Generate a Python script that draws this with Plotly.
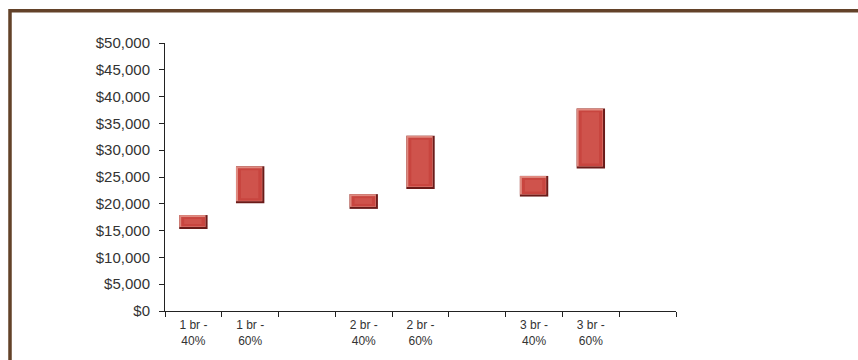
import plotly.graph_objects as go

# Rent ranges by unit size and income level
categories = ["1 br -<br>40%", "1 br -<br>60%", " ",
              "2 br -<br>40%", "2 br -<br>60%", "  ",
              "3 br -<br>40%", "3 br -<br>60%", "   "]
low_values = [15300, 20100, None, 19050, 22750, None, 21350, 26600, None]
high_values = [17900, 27000, None, 21800, 32700, None, 25200, 37800, None]
y_ticks = list(range(0, 50001, 5000))

W, H = 858, 360
M_L, M_R, M_T, M_B = 165, 182, 43, 47
pw = W - M_L - M_R
ph = H - M_T - M_B

# pixel sizes expressed in axis units, used for the bevelled bar look
px_val = 50000 / ph
px_cat = len(categories) / pw
BAR_W = 0.5

spans = [None if lo is None else hi - lo for lo, hi in zip(low_values, high_values)]


def layer(dl, dr, db, dt, color):
    """Bar layer inset by the given pixel amounts on left/right/bottom/top."""
    base = [None if lo is None else lo + db * px_val for lo in low_values]
    ys = [None if s is None else max(s - (db + dt) * px_val, 0) for s in spans]
    return go.Bar(
        x=categories, y=ys, base=base,
        width=BAR_W - (dl + dr) * px_cat,
        offset=-BAR_W / 2 + dl * px_cat,
        marker=dict(color=color, line=dict(width=0)),
        hoverinfo="skip", showlegend=False,
    )


fig = go.Figure()
fig.add_trace(layer(0, 0, 0, 0, "#6A1B19"))        # dark edge (right / bottom)
fig.add_trace(layer(0, 2, 2, 0, "#E08A80"))        # light edge (top / left)
fig.add_trace(layer(2, 2.5, 2.5, 2, "#C8453F"))    # face
fig.add_trace(layer(5, 6, 5, 4, "#CF534C"))        # softer centre


def px_x(px):
    return (px - M_L) / pw


def px_y(py):
    return (H - M_B - py) / ph


# brown frame around the chart (top and left edges visible)
fig.add_shape(type="rect", xref="paper", yref="paper",
              x0=px_x(10), x1=px_x(W + 20), y0=px_y(H + 20), y1=px_y(10.5),
              line=dict(color="#634229", width=3.5), fillcolor="rgba(0,0,0,0)",
              layer="above")

fig.update_layout(
    width=W, height=H, autosize=False,
    margin=dict(l=M_L, r=M_R, t=M_T, b=M_B),
    paper_bgcolor="white", plot_bgcolor="white",
    barmode="overlay",
    font=dict(family="Liberation Sans, Arial, sans-serif", color="#333333"),
    xaxis=dict(
        type="category", categoryorder="array", categoryarray=categories,
        tickson="boundaries", ticks="outside", ticklen=5, tickcolor="#222",
        showline=True, linecolor="#222", linewidth=1,
        showgrid=False, zeroline=False,
        tickfont=dict(size=12, color="#333333"),
        ticklabelstandoff=3,
        range=[-0.5, len(categories) - 0.5],
    ),
    yaxis=dict(
        range=[0, 50000], tickvals=y_ticks, tickformat="$,",
        ticks="outside", ticklen=5, tickcolor="#222",
        showline=True, linecolor="#222", linewidth=1,
        showgrid=False, zeroline=False,
        tickfont=dict(size=15, color="#333333"),
        ticklabelstandoff=6,
    ),
)

fig.write_html("out.html")
